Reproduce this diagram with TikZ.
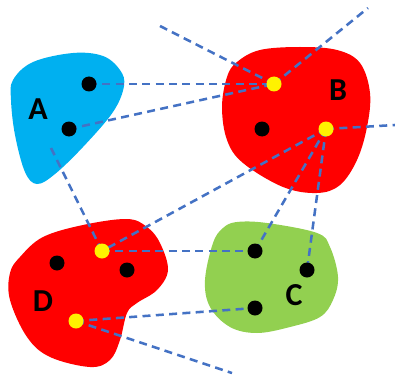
\documentclass[tikz,border=0pt]{standalone}
\usepackage{fontspec}
\setmainfont{Carlito}
\definecolor{blobA}{RGB}{0,176,240}
\definecolor{blobR}{RGB}{255,0,0}
\definecolor{blobC}{RGB}{146,208,80}
\definecolor{link}{RGB}{68,114,196}
\begin{document}
\begin{tikzpicture}[x=0.75pt,y=-0.75pt,
  bdot/.style={circle,fill=black,inner sep=0pt,minimum size=15*0.75pt},
  ydot/.style={circle,fill=yellow,inner sep=0pt,minimum size=15*0.75pt},
  lbl/.style={font=\fontsize{24}{24}\selectfont\bfseries,inner sep=0pt},
  conn/.style={draw=link,line width=1.9pt,dash pattern=on 6pt off 4pt}]
\useasboundingbox (0,0) rectangle (395,374);
% blobs
\fill[blobA] plot[smooth cycle,tension=0.6] coordinates {(13,80) (33,62) (73,53) (103,56) (120,70) (124,86) (113,112) (83,147) (55,174) (37,184) (25,172) (15,135) (11,100)};
\fill[blobR] plot[smooth cycle,tension=0.6] coordinates {(237,62) (260,50) (300,47) (337,50) (360,63) (370,93) (367,127) (357,160) (340,185) (317,193) (283,187) (243,163) (227,140) (222,107) (227,77)};
\fill[blobR] plot[smooth cycle,tension=0.6] coordinates {(20,257) (43,237) (83,225) (127,219) (147,227) (160,243) (168,270) (157,290) (137,303) (127,313) (120,340) (110,360) (90,367) (50,357) (27,337) (10,300) (10,273)};
\fill[blobC] plot[smooth cycle,tension=0.6] coordinates {(237,222) (267,223) (317,233) (330,247) (338,277) (333,300) (320,317) (290,327) (257,333) (230,327) (210,307) (205,280) (213,243) (223,228)};
% labels
\node[lbl] (la) at (38,109) {A};
\node[lbl] (lb) at (338,90) {B};
\node[lbl] (lc) at (294,295) {C};
\node[lbl] (ld) at (43,301) {D};
% points
\coordinate (a1) at (89,84);
\coordinate (a2) at (69,129);
\coordinate (by1) at (274,84);
\coordinate (by2) at (326,129);
\coordinate (bb) at (262,129);
\coordinate (dy1) at (102,251);
\coordinate (dy2) at (76,321);
\coordinate (d1) at (57,263);
\coordinate (d2) at (127,270);
\coordinate (c1) at (255,251);
\coordinate (c2) at (307,270);
\coordinate (c3) at (255,308);
% free ends
\coordinate (f1) at (160,26);
\coordinate (f2) at (368,8);
\coordinate (f3) at (395,125);
\coordinate (f4) at (51,148);
\coordinate (f5) at (232,373);
% connectors
\draw[conn] (a1) -- (by1);
\draw[conn] (a2) -- (by1);
\draw[conn] (f1) -- (by1);
\draw[conn] (by1) -- (f2);
\draw[conn] (by2) -- (f3);
\draw[conn] (by2) -- (dy1);
\draw[conn] (by2) -- (c1);
\draw[conn] (by2) -- (c2);
\draw[conn] (f4) -- (dy1);
\draw[conn] (dy1) -- (c1);
\draw[conn] (dy2) -- (c3);
\draw[conn] (dy2) -- (f5);
% dots
\node[bdot] (na1) at (a1) {};
\node[bdot] (na2) at (a2) {};
\node[bdot] (nbb) at (bb) {};
\node[ydot] (nby1) at (by1) {};
\node[ydot] (nby2) at (by2) {};
\node[ydot] (ndy1) at (dy1) {};
\node[ydot] (ndy2) at (dy2) {};
\node[bdot] (nd1) at (d1) {};
\node[bdot] (nd2) at (d2) {};
\node[bdot] (nc1) at (c1) {};
\node[bdot] (nc2) at (c2) {};
\node[bdot] (nc3) at (c3) {};
\end{tikzpicture}
\end{document}
